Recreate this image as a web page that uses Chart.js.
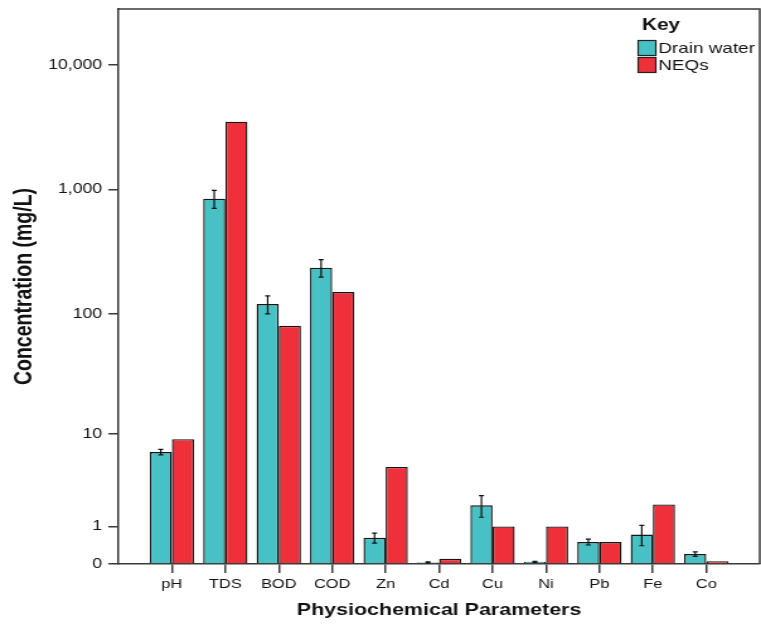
<!DOCTYPE html>
<html>
<head>
<meta charset="utf-8">
<title>Physiochemical Parameters</title>
<script src="https://cdn.jsdelivr.net/npm/chart.js@4.4.0/dist/chart.umd.min.js"></script>
<style>
  html, body { margin: 0; padding: 0; background: #fff; overflow: hidden; }
  #chart { display: block; }
</style>
</head>
<body>
<!-- drawn 604px wide, shown widened to 761px -->
<canvas id="chart" width="604" height="624" style="width:761px;height:624px"></canvas>
<script>
const categories = ["pH", "TDS", "BOD", "COD", "Zn", "Cd", "Cu", "Ni", "Pb", "Fe", "Co"];
const drainWater = [6.9, 845, 120, 236, 0.62, 0.03, 1.95, 0.04, 0.5, 0.72, 0.2];
const drainError = [0.4, 140, 20, 38, 0.15, 0.01, 0.58, 0.01, 0.08, 0.32, 0.05];
const neqs = [9, 3500, 80, 150, 5, 0.1, 1, 1, 0.5, 2, 0.05];
const yTicks = [0, 1, 10, 100, 1000, 10000];

const FONT = "'Liberation Sans', Arial, sans-serif";
const AXIS_COLOR = "#3a3a3a";

// value axis spaced by log10(v + 1), so zero sits on the baseline
class Log1pScale extends Chart.Scale {
  determineDataLimits() {
    const lo = this.options.min ?? 0;
    const hi = this.options.max ?? this.getMinMax(false).max;
    this.min = Math.log10(lo + 1);
    this.max = Math.log10(hi + 1);
  }
  buildTicks() {
    return (this.options.ticks.values || yTicks).map((v) => ({ value: v }));
  }
  configure() {
    super.configure();
    this._span = this.max - this.min;
  }
  getPixelForValue(value) {
    if (value === null || value === undefined || isNaN(value)) return NaN;
    return this.getPixelForDecimal((Math.log10(value + 1) - this.min) / this._span);
  }
  getValueForPixel(pixel) {
    return Math.pow(10, this.min + this.getDecimalForPixel(pixel) * this._span) - 1;
  }
  getPixelForTick(index) {
    return this.getPixelForValue(this.ticks[index].value);
  }
  getLabelForValue(value) {
    return value.toLocaleString("en-US");
  }
}
Log1pScale.id = "log1p";
Log1pScale.defaults = {};
Chart.register(Log1pScale);

// mean +/- error whiskers on the drain water bars
const errorBars = {
  id: "errorBars",
  afterDatasetsDraw(chart) {
    const ctx = chart.ctx;
    const y = chart.scales.y;
    const meta = chart.getDatasetMeta(0);
    ctx.save();
    ctx.strokeStyle = "#111";
    ctx.lineWidth = 1.2;
    meta.data.forEach((bar, i) => {
      const top = y.getPixelForValue(drainWater[i] + drainError[i]);
      const bottom = y.getPixelForValue(Math.max(drainWater[i] - drainError[i], 0));
      ctx.beginPath();
      ctx.moveTo(bar.x, top);
      ctx.lineTo(bar.x, bottom);
      ctx.moveTo(bar.x - 2, top);
      ctx.lineTo(bar.x + 2, top);
      ctx.moveTo(bar.x - 2, bottom);
      ctx.lineTo(bar.x + 2, bottom);
      ctx.stroke();
    });
    ctx.restore();
  },
};

// top and right edges of the plot box plus the "Key" legend
const frameAndKey = {
  id: "frameAndKey",
  afterDraw(chart) {
    const { ctx, chartArea } = chart;
    ctx.save();
    ctx.strokeStyle = AXIS_COLOR;
    ctx.lineWidth = 1.5;
    ctx.beginPath();
    ctx.moveTo(chartArea.left, chartArea.top);
    ctx.lineTo(chartArea.right, chartArea.top);
    ctx.lineTo(chartArea.right, chartArea.bottom);
    ctx.stroke();

    const x = chartArea.right - 96.5;
    ctx.fillStyle = "#111";
    ctx.font = "bold 16.5px " + FONT;
    ctx.textBaseline = "alphabetic";
    ctx.fillText("Key", x + 3, 30);

    ctx.font = "15px " + FONT;
    ctx.textBaseline = "middle";
    chart.data.datasets.forEach((ds, i) => {
      const top = 40.5 + i * 17;
      ctx.fillStyle = ds.backgroundColor;
      ctx.fillRect(x, top, 14, 15);
      ctx.strokeStyle = "#222";
      ctx.lineWidth = 1.2;
      ctx.strokeRect(x, top, 14, 15);
      ctx.fillStyle = "#111";
      ctx.fillText(ds.label, x + 16, top + 8);
    });
    ctx.restore();
  },
};

const ctx = document.getElementById("chart").getContext("2d");
new Chart(ctx, {
  type: "bar",
  data: {
    datasets: [
      {
        label: "Drain water",
        data: drainWater.map((v, i) => ({ x: i + 1, y: v })),
        backgroundColor: "#47c1c4",
        borderColor: "#151515",
        borderWidth: 1.4,
      },
      {
        label: "NEQs",
        data: neqs.map((v, i) => ({ x: i + 1, y: v })),
        backgroundColor: "#ee303a",
        borderColor: "#151515",
        borderWidth: 1.4,
      },
    ],
  },
  options: {
    responsive: false,
    animation: false,
    devicePixelRatio: 1,
    categoryPercentage: 0.83,
    barPercentage: 1,
    layout: { padding: { top: 9, right: 1, bottom: 0, left: 0 } },
    plugins: {
      legend: { display: false },
      tooltip: { enabled: false },
    },
    scales: {
      x: {
        type: "linear",
        min: 0,
        max: 12,
        offset: false,
        afterBuildTicks: (scale) => {
          scale.ticks = categories.map((c, i) => ({ value: i + 1 }));
        },
        afterFit: (scale) => {
          scale.height = 60;
        },
        grid: {
          offset: false,
          drawOnChartArea: false,
          drawTicks: true,
          tickLength: 9,
          color: AXIS_COLOR,
          lineWidth: 1.5,
        },
        border: { display: true, color: AXIS_COLOR, width: 1.5 },
        ticks: {
          autoSkip: false,
          maxRotation: 0,
          padding: 4,
          color: "#111",
          font: { family: FONT, size: 13 },
          callback: (v) => categories[v - 1],
        },
        title: {
          display: true,
          text: "Physiochemical Parameters",
          color: "#111",
          font: { family: FONT, size: 17, weight: "bold" },
          padding: { top: 0, bottom: 3 },
        },
      },
      y: {
        type: "log1p",
        min: 0,
        max: 28000,
        afterFit: (scale) => {
          scale.width = 94;
          scale.paddingTop = 0;
          scale.paddingBottom = 0;
        },
        grid: {
          drawOnChartArea: false,
          drawTicks: true,
          tickLength: 8,
          color: AXIS_COLOR,
          lineWidth: 1.5,
        },
        border: { display: true, color: AXIS_COLOR, width: 1.5 },
        ticks: {
          values: yTicks,
          padding: 5,
          color: "#111",
          font: { family: FONT, size: 14 },
          callback: (v) => v.toLocaleString("en-US"),
        },
        title: {
          display: true,
          text: "Concentration (mg/L)",
          color: "#111",
          font: { family: FONT, size: 19.5, weight: "bold" },
          padding: { top: 8, bottom: 0 },
        },
      },
    },
  },
  plugins: [errorBars, frameAndKey],
});
</script>
</body>
</html>
